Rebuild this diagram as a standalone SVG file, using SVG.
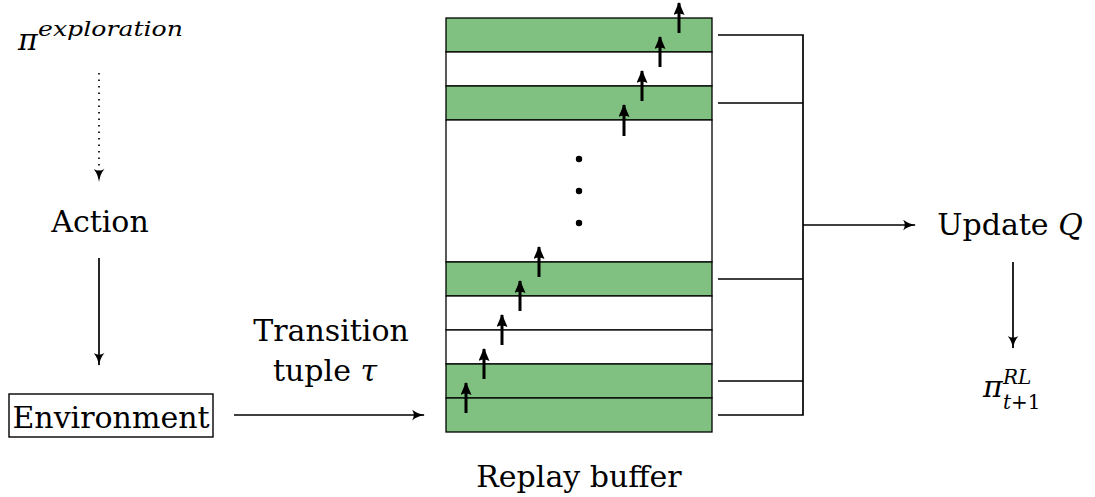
<svg xmlns="http://www.w3.org/2000/svg" width="1095" height="497" viewBox="0 0 1095 497" font-family="'DejaVu Serif', serif">
<style>
text{font-family:'DejaVu Serif',serif;fill:#000}
.lbl{font-size:30px}
.it{font-style:italic}
.row{stroke:#000;stroke-width:1.3}
.g{fill:#80c080}
.w{fill:#fff}
.conn{fill:none;stroke:#000;stroke-width:1.7}
.thick{fill:none;stroke:#000;stroke-width:3}
</style>
<defs>
<marker id="ah" viewBox="0 0 13 11" refX="12" refY="5.5" markerWidth="13" markerHeight="11" markerUnits="userSpaceOnUse" orient="auto">
<path d="M0,0 Q5,4.5 13,5.5 Q5,6.5 0,11 Q3.5,5.5 0,0 Z" fill="#000"/>
</marker>
<marker id="ahT" viewBox="0 0 13 11" refX="12" refY="5.5" markerWidth="13" markerHeight="11" markerUnits="userSpaceOnUse" orient="auto">
<path d="M0,0 L13,5.5 L0,11 Q3,5.5 0,0 Z" fill="#000"/>
</marker>
</defs>

<g id="pi-exploration">
<text class="it" x="18" y="50" font-size="30">π</text>
<text class="it" x="38" y="36" font-size="21" textLength="145" lengthAdjust="spacingAndGlyphs">exploration</text>
</g>
<g id="action"><text class="lbl" x="100" y="232" text-anchor="middle">Action</text></g>
<g id="environment">
<rect x="9" y="394" width="204" height="43" fill="#fff" stroke="#000" stroke-width="1.4"/>
<text class="lbl" x="111" y="428" text-anchor="middle">Environment</text>
</g>
<g id="transition-label">
<text class="lbl" x="331" y="341" text-anchor="middle">Transition</text>
<text class="lbl" x="325" y="381" text-anchor="middle">tuple <tspan class="it">τ</tspan></text>
</g>
<g id="replay-buffer">
<rect class="row g" x="446" y="18" width="266" height="34"/>
<rect class="row w" x="446" y="52" width="266" height="34"/>
<rect class="row g" x="446" y="86" width="266" height="34"/>
<rect class="row w" x="446" y="120" width="266" height="142"/>
<rect class="row g" x="446" y="262" width="266" height="34"/>
<rect class="row w" x="446" y="296" width="266" height="34"/>
<rect class="row w" x="446" y="330" width="266" height="34"/>
<rect class="row g" x="446" y="364" width="266" height="34"/>
<rect class="row g" x="446" y="398" width="266" height="34"/>
<circle cx="579" cy="159" r="3.2"/>
<circle cx="579" cy="191" r="3.2"/>
<circle cx="579" cy="223" r="3.2"/>
<g class="thick" marker-end="url(#ahT)">
<path d="M466,413V383"/>
<path d="M484,379V349"/>
<path d="M502,345V315"/>
<path d="M520,311V281"/>
<path d="M539,277V247"/>
<path d="M624,136V105"/>
<path d="M642,101V71"/>
<path d="M660,67V37"/>
<path d="M679,33V3"/>
</g>
<text class="lbl" x="579" y="487" text-anchor="middle">Replay buffer</text>
</g>
<g id="update-q">
<text class="lbl" x="1010" y="235" text-anchor="middle">Update <tspan class="it">Q</tspan></text>
</g>
<g id="pi-rl">
<text class="it" x="983" y="397" font-size="30">π</text>
<text class="it" x="1003" y="384" font-size="20">RL</text>
<text x="1003" y="409" font-size="20"><tspan class="it">t</tspan>+1</text>
</g>
<g id="connectors">
<path class="conn" d="M99,73V181" stroke-dasharray="1.5,5" marker-end="url(#ah)"/>
<path class="conn" d="M99,258V365" marker-end="url(#ah)"/>
<path class="conn" d="M234,415H424" marker-end="url(#ah)"/>
<path class="conn" d="M718,35H803M718,103H803M718,279H803M718,381H803M718,415H803M803,34.2V415.8"/>
<path class="conn" d="M803,225H915" marker-end="url(#ah)"/>
<path class="conn" d="M1013,262V348" marker-end="url(#ah)"/>
</g>
</svg>
